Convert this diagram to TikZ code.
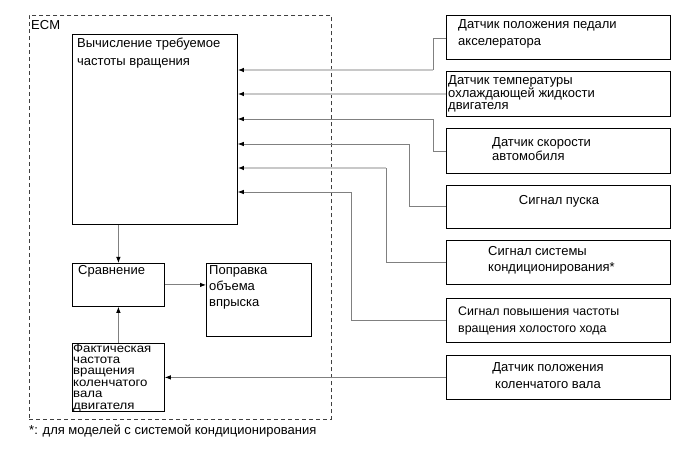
\documentclass[tikz,border=0pt]{standalone}
\usepackage{fontspec}
\setmainfont{Liberation Sans}
\newfontfamily\widesans[FakeStretch=1.1]{Liberation Sans}
\usetikzlibrary{arrows.meta}
\definecolor{lgray}{HTML}{C8C8C8}
\definecolor{dgray}{HTML}{808080}
\begin{document}
\begin{tikzpicture}[x=1pt,y=-1pt,
  box/.style={draw=black, line width=0.8pt, anchor=north west, inner sep=0pt},
  txt/.style={anchor=north west, inner sep=0pt, align=left, font=\fontsize{13}{#1}\selectfont},
  txt/.default=17,
  ctxt/.style={anchor=north, inner sep=0pt, align=center, font=\fontsize{13}{#1}\selectfont},
  ctxt/.default=17,
  lg/.style={draw=lgray, line width=1.5pt},
  dg/.style={draw=dgray, line width=0.8pt},
  arr/.style={-{Latex[length=6pt,width=4.5pt,color=black]}}
]
\useasboundingbox (0,0) rectangle (691,465);

% ECM frame
\node[box, draw=black!75, dash pattern=on 4pt off 3pt, minimum width=302pt, minimum height=404pt] (ecm) at (29,15) {};
\node[anchor=base west, inner sep=0pt, font=\fontsize{13}{15}\selectfont] (ecml) at (31,29.5) {ECM};

% ECM blocks
\node[box, minimum width=165pt, minimum height=190pt] (calc) at (72,34) {};
\node[txt=18] (calct) at (77,38) {Вычисление требуемое\\частоты вращения};

\node[box, minimum width=92pt, minimum height=43pt] (cmp) at (72,263) {};
\node[txt] (cmpt) at (78,265) {Сравнение};

\node[box, minimum width=105pt, minimum height=73pt] (corr) at (206,263) {};
\node[txt=16] (corrt) at (209,265) {Поправка\\объема\\впрыска};

\node[box, minimum width=92pt, minimum height=68pt] (fact) at (72,343) {};
\node[txt, font=\widesans\fontsize{12}{11.4}\selectfont] (factt) at (73,343.5) {Фактическая\\частота\\вращения\\коленчатого\\вала\\двигателя};

% Sensors / signals
\node[box, minimum width=224pt, minimum height=44pt] (s1) at (446,15) {};
\node[txt] (s1t) at (458,19.5) {Датчик положения педали\\акселератора};

\node[box, minimum width=224pt, minimum height=45pt] (s2) at (446,71) {};
\node[txt=12.5] (s2t) at (448,75.5) {Датчик температуры\\охлаждающей жидкости\\двигателя};

\node[box, minimum width=224pt, minimum height=45pt] (s3) at (446,128) {};
\node[txt=14] (s3t) at (492,137) {Датчик скорости\\автомобиля};

\node[box, minimum width=224pt, minimum height=43pt] (s4) at (446,185) {};
\node[ctxt] (s4t) at (559,195) {Сигнал пуска};

\node[box, minimum width=224pt, minimum height=44pt] (s5) at (446,240) {};
\node[txt=16] (s5t) at (488,246) {Сигнал системы\\кондиционирования*};

\node[box, minimum width=224pt, minimum height=44pt] (s6) at (446,298) {};
\node[txt, font=\fontsize{12.4}{17}\selectfont] (s6t) at (458,307) {Сигнал повышения частоты\\вращения холостого хода};

\node[box, minimum width=224pt, minimum height=44pt] (s7) at (446,355) {};
\node[ctxt] (s7t) at (548,362) {Датчик положения\\коленчатого вала};

% footnote
\node[anchor=base west, inner sep=0pt, font=\fontsize{13}{15}\selectfont] (fn) at (29,434) {*: для моделей с системой кондиционирования};

% junctions
\coordinate (j1a) at (433,38);  \coordinate (j1b) at (433,70);
\coordinate (j2)  at (433,94);
\coordinate (j3a) at (433,151); \coordinate (j3b) at (433,119);
\coordinate (j4a) at (409,206); \coordinate (j4b) at (409,144);
\coordinate (j5a) at (386,262); \coordinate (j5b) at (386,168);
\coordinate (j6a) at (351,320); \coordinate (j6b) at (351,192);

% connectors into calculation block
\draw[dg] (s1.west |- j1a) -- (j1a) -- (j1b);
\draw[lg, arr] (j1b) -- (calc.east |- j1b);
\draw[lg, arr] (s2.west |- j2) -- (calc.east |- j2);
\draw[dg, arr] (s3.west |- j3a) -- (j3a) -- (j3b) -- (calc.east |- j3b);
\draw[dg, arr] (s4.west |- j4a) -- (j4a) -- (j4b) -- (calc.east |- j4b);
\draw[dg] (s5.west |- j5a) -- (j5a) -- (j5b);
\draw[lg, arr] (j5b) -- (calc.east |- j5b);
\draw[dg, arr] (s6.west |- j6a) -- (j6a) -- (j6b) -- (calc.east |- j6b);
\draw[dg, arr] (s7.west) -- (fact.east);

% internal connectors
\draw[dg, arr] (calc.south -| cmp.north) -- (cmp.north);
\draw[dg, arr] (fact.north) -- (cmp.south);
\draw[dg, arr] (cmp.east) -- (corr.west |- cmp.east);
\end{tikzpicture}
\end{document}
